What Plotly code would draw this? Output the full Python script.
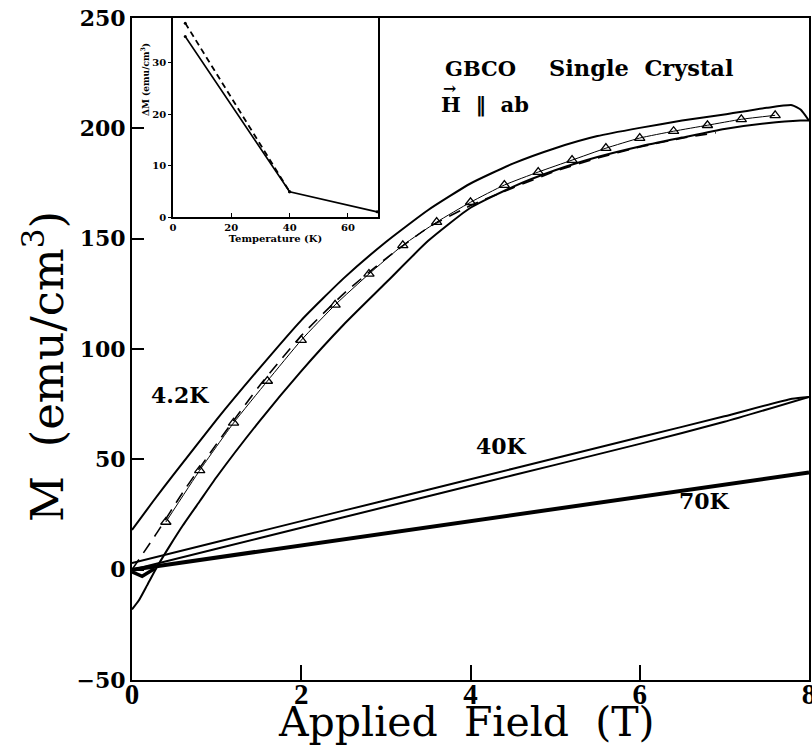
import plotly.graph_objects as go

# ---------------- main panel data (M vs applied field) ----------------
field_tri = [0.4, 0.8, 1.2, 1.6, 2.0, 2.4, 2.8, 3.2, 3.6, 4.0, 4.4, 4.8, 5.2, 5.6, 6.0, 6.4, 6.8, 7.2, 7.6]
m_tri = [21.6, 45.0, 66.5, 85.5, 104, 120, 134, 147, 157.5, 166.5, 174.3, 180.2, 185.6, 191.0, 195.6, 198.7, 201.4, 204.1, 205.9]

field_42_down = [0, 0.25, 0.5, 1.0, 1.5, 2.0, 2.5, 3.0, 3.5, 4.0, 4.5, 5.0, 5.5, 6.0, 6.5, 7.0, 7.5, 7.8, 7.9, 8.0]
m_42_down = [18, 31, 43.5, 68, 91, 113, 132, 148.5, 163, 175, 184, 191, 196.5, 200.2, 203.5, 206.3, 209.3, 210.5, 208.5, 203.5]

field_42_up = [0, 0.08, 0.18, 0.3, 0.45, 0.6, 0.8, 1.0, 1.5, 2.0, 2.5, 3.0, 3.5, 4.0, 4.5, 5.0, 5.5, 6.0, 6.5, 7.0, 7.5, 7.9, 8.0]
m_42_up = [-18, -14, -7, 1.5, 11, 20, 31, 42, 67, 90, 111, 130, 149, 164, 173.5, 181, 187, 191.8, 195.8, 199.7, 202.3, 203.5, 203.5]

field_dash = [0, 0.3, 0.6, 1.0, 1.5, 2.0, 2.5, 3.0, 3.5, 4.0, 4.5, 5.0, 5.5, 6.0, 6.5, 6.9]
m_dash = [0, 17, 35, 57, 83, 106, 125, 141, 155, 165, 173, 180.5, 186.5, 191.5, 195.5, 198]

field_40_a = [0, 1, 2, 3, 4, 5, 6, 7, 7.8, 8.0]
m_40_a = [3, 12.5, 22, 31.5, 41, 50.5, 60, 69.5, 77.5, 78.3]
field_40_b = [0, 1, 2, 3, 4, 5, 6, 7, 8]
m_40_b = [0, 9.5, 19, 28.5, 38, 47.5, 57, 67, 78.3]

field_70 = [0, 2, 4, 6, 8]
m_70 = [0, 11, 22, 33, 44]
field_70_low = [0, 0.12, 0.27]
m_70_low = [-1, -3, 0.5]

x_ticks = [0, 2, 4, 6, 8]
y_ticks = [-50, 0, 50, 100, 150, 200, 250]

# ---------------- inset data (Delta M vs temperature) ----------------
temp_solid = [4.2, 40, 70]
dm_solid = [35.1, 4.9, 1.0]
temp_dash = [4.2, 40]
dm_dash = [37.7, 4.9]
inset_x_ticks = [0, 20, 40, 60]
inset_y_ticks = [0, 10, 20, 30]

BLACK = "black"
SERIF = "DejaVu Serif"

# plot-area geometry in pixels (for placing paper-referenced text)
L, R, T, B = 132, 809, 18, 680
def px(xp):
    return (xp - L) / (R - L)
def py(yp):
    return (B - yp) / (B - T)

fig = go.Figure()

# 4.2 K hysteresis loop
fig.add_trace(go.Scatter(x=field_42_down, y=m_42_down, mode="lines",
                         line=dict(color=BLACK, width=2, shape="spline", smoothing=0.5),
                         name="4.2K decreasing", showlegend=False))
fig.add_trace(go.Scatter(x=field_42_up, y=m_42_up, mode="lines",
                         line=dict(color=BLACK, width=2, shape="spline", smoothing=0.5),
                         name="4.2K increasing", showlegend=False))
fig.add_trace(go.Scatter(x=field_dash, y=m_dash, mode="lines",
                         line=dict(color=BLACK, width=1.6, dash="12px,8px", shape="spline", smoothing=0.5),
                         name="4.2K dashed", showlegend=False))
fig.add_trace(go.Scatter(x=field_tri, y=m_tri, mode="lines+markers",
                         line=dict(color=BLACK, width=1, shape="spline", smoothing=0.5),
                         marker=dict(symbol="triangle-up-open", size=9, color=BLACK, line=dict(width=1.3, color=BLACK)),
                         name="4.2K triangles", showlegend=False))
# 40 K
fig.add_trace(go.Scatter(x=field_40_a, y=m_40_a, mode="lines",
                         line=dict(color=BLACK, width=2, shape="spline", smoothing=0.5),
                         name="40K a", showlegend=False))
fig.add_trace(go.Scatter(x=field_40_b, y=m_40_b, mode="lines",
                         line=dict(color=BLACK, width=2, shape="spline", smoothing=0.5),
                         name="40K b", showlegend=False))
# 70 K
fig.add_trace(go.Scatter(x=field_70, y=m_70, mode="lines",
                         line=dict(color=BLACK, width=4),
                         name="70K", showlegend=False))
fig.add_trace(go.Scatter(x=field_70_low, y=m_70_low, mode="lines",
                         line=dict(color=BLACK, width=3.5),
                         name="70K low field", showlegend=False))

# inset
fig.add_trace(go.Scatter(x=temp_solid, y=dm_solid, mode="lines+markers", xaxis="x2", yaxis="y2",
                         line=dict(color=BLACK, width=1.6), marker=dict(size=3, color=BLACK),
                         name="inset solid", showlegend=False))
fig.add_trace(go.Scatter(x=temp_dash, y=dm_dash, mode="lines+markers", xaxis="x2", yaxis="y2",
                         line=dict(color=BLACK, width=1.8, dash="6px,4px"), marker=dict(size=3, color=BLACK),
                         name="inset dashed", showlegend=False))

tick_font_y = dict(family=SERIF, size=22, color=BLACK, weight="bold")
tick_font_x = dict(family="Liberation Serif", size=29, color=BLACK, weight="bold")

fig.update_layout(
    width=812, height=746,
    margin=dict(l=L, r=812 - R, t=T, b=746 - B),
    paper_bgcolor="white", plot_bgcolor="white",
    showlegend=False,
    xaxis=dict(range=[0, 8], tickvals=x_ticks, ticktext=[str(v) for v in x_ticks],
               ticks="inside", ticklen=15, tickwidth=1.5, tickcolor=BLACK,
               showline=True, linecolor=BLACK, linewidth=2, mirror=True,
               showgrid=False, zeroline=False, tickfont=tick_font_x,
               ticklabelstandoff=-13, ticklabeloverflow="allow",
               automargin=False),
    yaxis=dict(range=[-50, 250], tickvals=y_ticks, ticktext=["\u221250" if v < 0 else str(v) for v in y_ticks],
               ticks="inside", ticklen=12, tickwidth=1.5, tickcolor=BLACK,
               showline=True, linecolor=BLACK, linewidth=2, mirror=True,
               showgrid=False, zeroline=False, tickfont=tick_font_y,
               ticklabeloverflow="allow",
               automargin=False),
    xaxis2=dict(domain=[px(173), px(378)], anchor="y2", range=[0, 70.3],
                tickvals=inset_x_ticks, ticks="inside", ticklen=4, tickcolor=BLACK,
                showline=True, linecolor=BLACK, linewidth=1.5, mirror=True,
                showgrid=False, zeroline=False,
                tickfont=dict(family=SERIF, size=10, color=BLACK, weight="bold"),
                title=dict(text="Temperature (K)", font=dict(family=SERIF, size=10, color=BLACK, weight="bold"), standoff=0)),
    yaxis2=dict(domain=[py(217), 1.0], anchor="x2", range=[0, 38.7],
                tickvals=inset_y_ticks, ticks="outside", ticklen=3, tickcolor=BLACK,
                showline=True, linecolor=BLACK, linewidth=1.5, mirror=True,
                showgrid=False, zeroline=False,
                tickfont=dict(family=SERIF, size=10, color=BLACK, weight="bold")),
)

# axis titles
fig.add_annotation(x=px(466), y=py(722), xref="paper", yref="paper",
                   text="Applied\u00a0 Field\u00a0 (T)", showarrow=False,
                   xanchor="center", yanchor="middle",
                   font=dict(family=SERIF, size=41, color=BLACK))
fig.add_annotation(x=px(44), y=py(367), xref="paper", yref="paper",
                   text="M\u00a0 (emu/cm<sup>3</sup>)", showarrow=False, textangle=-90,
                   xanchor="center", yanchor="middle",
                   font=dict(family=SERIF, size=45, color=BLACK))
fig.add_annotation(x=px(145), y=py(80), xref="paper", yref="paper",
                   text="\u0394M (emu/cm<sup>3</sup>)", showarrow=False, textangle=-90,
                   xanchor="center", yanchor="middle",
                   font=dict(family=SERIF, size=9, color=BLACK, weight="bold"))

# curve labels
label_font = dict(family=SERIF, size=22, color=BLACK, weight="bold")
fig.add_annotation(x=0.57, y=79, xref="x", yref="y", text="4.2K", showarrow=False, font=label_font)
fig.add_annotation(x=4.37, y=56, xref="x", yref="y", text="40K", showarrow=False, font=label_font)
fig.add_annotation(x=6.77, y=31, xref="x", yref="y", text="70K", showarrow=False, font=label_font)

# sample description
fig.add_annotation(x=px(443), y=py(68), xref="paper", yref="paper",
                   text="GBCO", showarrow=False, xanchor="left", yanchor="middle",
                   font=dict(family=SERIF, size=21, color=BLACK, weight="bold"))
fig.add_annotation(x=px(547), y=py(68), xref="paper", yref="paper",
                   text="Single\u00a0 Crystal", showarrow=False, xanchor="left", yanchor="middle",
                   font=dict(family=SERIF, size=22.5, color=BLACK, weight="bold"))
fig.add_annotation(x=px(439), y=py(104), xref="paper", yref="paper",
                   text="H\u00a0\u00a0\u2016\u00a0\u00a0ab", showarrow=False,
                   xanchor="left", yanchor="middle", font=dict(family=SERIF, size=21, color=BLACK, weight="bold"))
fig.add_annotation(x=px(449), y=py(88), xref="paper", yref="paper",
                   text="\u2192", showarrow=False,
                   xanchor="center", yanchor="middle", font=dict(family=SERIF, size=16, color=BLACK, weight="bold"))

fig.write_html("out.html")
